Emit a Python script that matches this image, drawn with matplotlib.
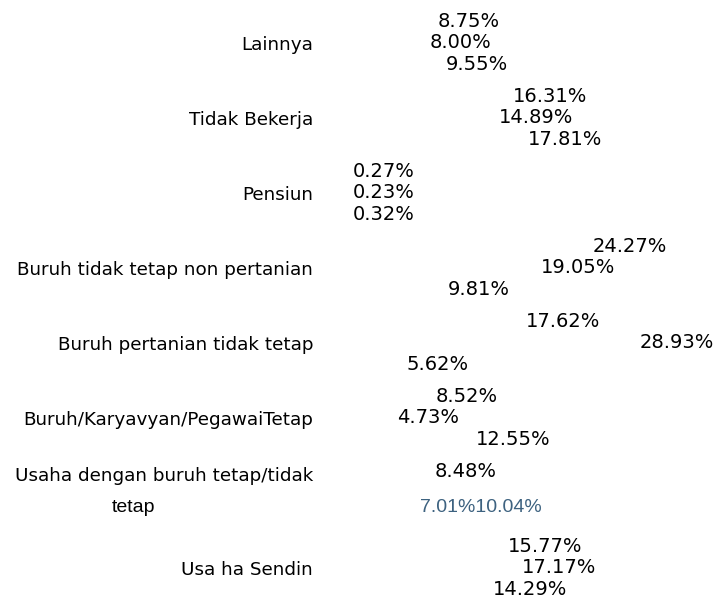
import matplotlib
matplotlib.use("Agg")
import matplotlib.pyplot as plt
import matplotlib.transforms as mtransforms
from matplotlib import font_manager

# categories, top to bottom
categories = [
    "Lainnya",
    "Tidak Bekerja",
    "Pensiun",
    "Buruh tidak tetap non pertanian",
    "Buruh pertanian tidak tetap",
    "Buruh/Karyavyan/PegawaiTetap",
    "Usaha dengan buruh tetap/tidak",
    "Usa ha Sendin",
]

# three series per category (top, middle, bottom row), in percent
series_a = [8.75, 16.31, 0.27, 24.27, 17.62, 8.52, 8.48, 15.77]
series_b = [8.00, 14.89, 0.23, 19.05, 28.93, 4.73, 7.01, 17.17]
series_c = [9.55, 17.81, 0.32, 9.81, 5.62, 12.55, 10.04, 14.29]

# the one category whose label wraps and whose lower labels run together
wrapped_idx = 6
wrapped_tail = "tetap"

names = {f.name for f in font_manager.fontManager.ttflist}
narrow = "Liberation Sans Narrow" if "Liberation Sans Narrow" in names else "Liberation Sans"

FS_CAT = 13.2
FS_VAL = 14
offsets = [-0.28, 0.0, 0.29]

fig = plt.figure(figsize=(7.16, 5.98), dpi=100)
ax = fig.add_axes([350 / 716, 0, 1 - 350 / 716, 1])

ys = list(range(len(categories)))

# bars are not drawn in the source, only their value labels
for series, off in zip([series_a, series_b, series_c], offsets):
    ax.barh([y + off for y in ys], series, height=0.27, color="none")

for i, y in enumerate(ys):
    ax.text(series_a[i], y + offsets[0], "{:.2f}%".format(series_a[i]),
            ha="left", va="center", fontsize=FS_VAL)
    if i == wrapped_idx:
        ax.text(series_b[i], y + 0.2,
                "{:.2f}%{:.2f}%".format(series_b[i], series_c[i]),
                ha="left", va="center", fontsize=FS_VAL, color="#3d6280",
                family=[narrow, "DejaVu Sans"])
        continue
    ax.text(series_b[i], y + offsets[1], "{:.2f}%".format(series_b[i]),
            ha="left", va="center", fontsize=FS_VAL)
    ax.text(series_c[i], y + offsets[2], "{:.2f}%".format(series_c[i]),
            ha="left", va="center", fontsize=FS_VAL)

ax.set_xlim(0, 36.6)
ax.set_ylim(7.4, -0.573)

ax.set_yticks(ys)
ax.set_yticklabels(["" if i == wrapped_idx else c for i, c in enumerate(categories)],
                   fontsize=FS_CAT)
ax.tick_params(axis="y", length=0, pad=26.5)
ax.set_xticks([])

# wrapped category label drawn in two pieces
trans = mtransforms.blended_transform_factory(fig.transFigure, ax.transData)
ax.text(313 / 716, wrapped_idx - 0.22, categories[wrapped_idx], transform=trans,
        ha="right", va="center", fontsize=FS_CAT)
ax.text(134 / 716, wrapped_idx + 0.2, wrapped_tail, transform=trans,
        ha="center", va="center", fontsize=FS_VAL, family=[narrow, "DejaVu Sans"])

for s in ax.spines.values():
    s.set_visible(False)

fig.savefig("out.png", dpi=100)
